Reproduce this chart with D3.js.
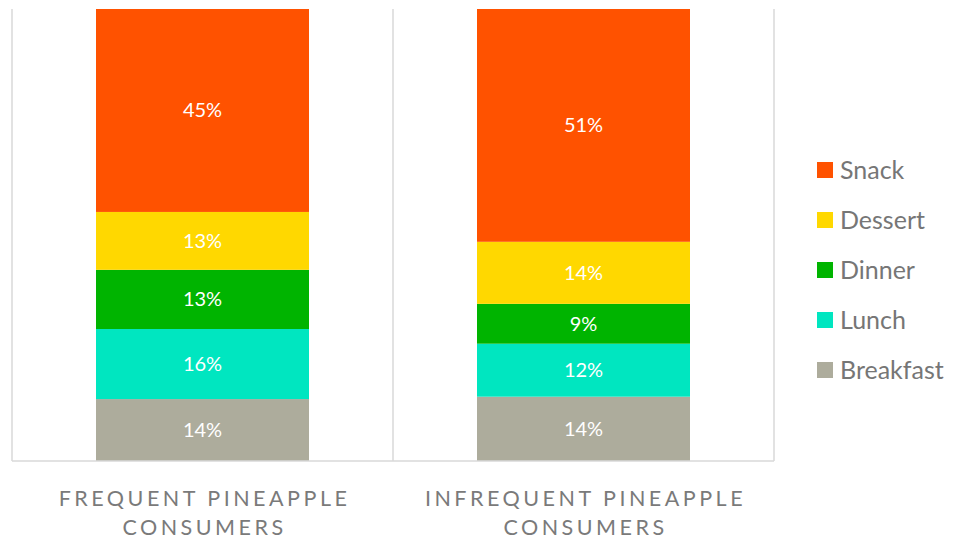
<!DOCTYPE html>
<html>
<head>
<meta charset="utf-8">
<script src="https://cdn.jsdelivr.net/npm/d3@7"></script>
<style>
  body { margin: 0; background: #fff; }
  text { font-family: Lato, "Open Sans", sans-serif; }
</style>
</head>
<body>
<div id="chart"></div>
<script>
// data
var groups = ["FREQUENT PINEAPPLE CONSUMERS", "INFREQUENT PINEAPPLE CONSUMERS"];
var meals = ["Breakfast", "Lunch", "Dinner", "Dessert", "Snack"];
var breakfast = [13.7, 14.2];
var lunch = [15.5, 11.7];
var dinner = [13.1, 8.8];
var dessert = [12.8, 13.7];
var snack = [44.9, 51.4];
var colors = ["#adac9c", "#00e6c0", "#00b400", "#ffd800", "#ff5200"];

var W = 953, H = 542;
var plot = {left: 12, right: 774, top: 9, bottom: 461};

var rows = groups.map(function(g, i) {
  return {group: g, Breakfast: breakfast[i], Lunch: lunch[i], Dinner: dinner[i], Dessert: dessert[i], Snack: snack[i]};
});

var series = d3.stack().keys(meals).offset(d3.stackOffsetExpand)(rows);

var x = d3.scaleBand().domain(groups).range([plot.left, plot.right]).paddingInner(0).paddingOuter(0);
var barW = 213;
var y = d3.scaleLinear().domain([0, 1]).range([plot.bottom, plot.top]);
var color = d3.scaleOrdinal().domain(meals).range(colors);

var svg = d3.select("#chart").append("svg")
    .attr("width", W).attr("height", H);

// vertical gridlines
var gx = [plot.left].concat(groups.map(function(g) { return x(g) + x.bandwidth(); }));
svg.selectAll(".grid").data(gx).enter().append("line")
    .attr("x1", function(d) { return d; }).attr("x2", function(d) { return d; })
    .attr("y1", plot.top).attr("y2", plot.bottom)
    .attr("stroke", "#d9d9d9").attr("stroke-width", 1.5);

// bars
var layer = svg.selectAll(".layer").data(series).enter().append("g")
    .attr("fill", function(d) { return color(d.key); });

layer.selectAll("rect").data(function(d) { return d; }).enter().append("rect")
    .attr("x", function(d) { return x(d.data.group) + (x.bandwidth() - barW) / 2; })
    .attr("width", barW)
    .attr("y", function(d) { return y(d[1]); })
    .attr("height", function(d) { return y(d[0]) - y(d[1]); });

layer.selectAll("text").data(function(d) { return d.map(function(p) { p.key = d.key; return p; }); })
  .enter().append("text")
    .attr("x", function(d) { return x(d.data.group) + x.bandwidth() / 2; })
    .attr("y", function(d) { return (y(d[0]) + y(d[1])) / 2; })
    .attr("dy", "0.35em")
    .attr("text-anchor", "middle")
    .attr("fill", "#fff")
    .attr("font-size", 20)
    .text(function(d) { return Math.round(d.data[d.key]) + "%"; });

// bottom axis line
svg.append("line")
    .attr("x1", plot.left).attr("x2", plot.right)
    .attr("y1", plot.bottom).attr("y2", plot.bottom)
    .attr("stroke", "#d9d9d9").attr("stroke-width", 1.5);

// category labels
svg.selectAll(".cat").data(groups).enter().append("text")
    .attr("text-anchor", "middle")
    .attr("fill", "#7a7a7a")
    .attr("font-size", 21.5)
    .attr("letter-spacing", 3.5)
    .each(function(d) {
      var t = d3.select(this);
      var cx = x(d) + x.bandwidth() / 2 + 2;
      var words = d.split(" ");
      t.append("tspan").attr("x", cx).attr("y", 506).text(words.slice(0, 2).join(" "));
      t.append("tspan").attr("x", cx).attr("y", 535).text(words.slice(2).join(" "));
    });

// legend
var legend = svg.selectAll(".legend").data(meals.slice().reverse()).enter().append("g")
    .attr("transform", function(d, i) { return "translate(817," + (170 + i * 50) + ")"; });
legend.append("rect").attr("x", 0).attr("y", -8).attr("width", 16).attr("height", 16)
    .attr("fill", function(d) { return color(d); });
legend.append("text").attr("x", 23).attr("dy", "0.35em")
    .attr("fill", "#767676").attr("font-size", 25)
    .text(function(d) { return d; });
</script>
</body>
</html>
